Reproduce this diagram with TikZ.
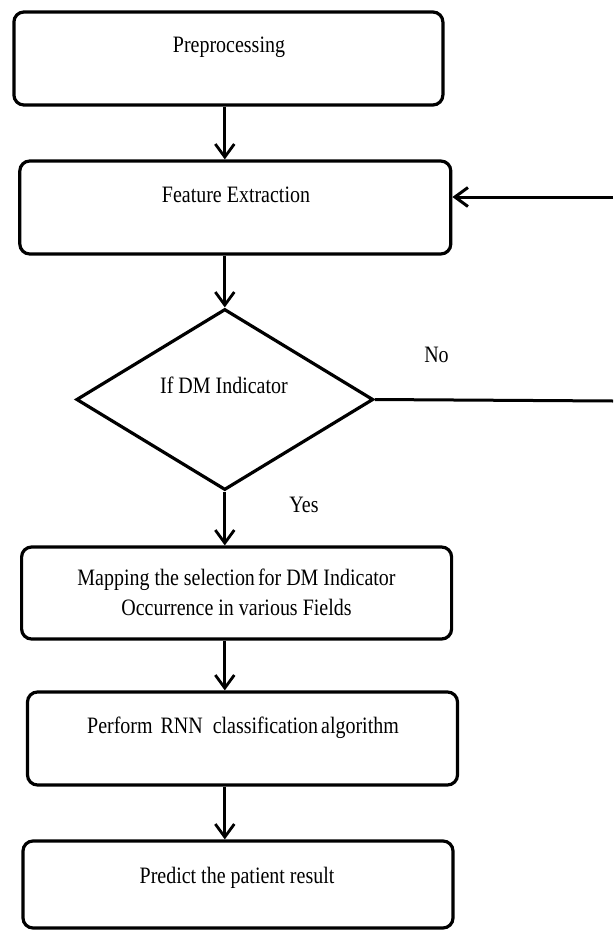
\documentclass[tikz,border=0pt]{standalone}
\usepackage{fontspec}
\setmainfont{Liberation Serif}[FakeStretch=0.85]
\usetikzlibrary{shapes.geometric,arrows.meta}
\begin{document}
\begin{tikzpicture}[x=1pt,y=-1pt,
  box/.style={draw, line width=3.2pt, rounded corners=10pt, inner sep=0pt, minimum width=430pt},
  txt/.style={font=\fontsize{23.5}{30}\selectfont, inner sep=0pt, anchor=base},
  arr/.style={line width=2.8pt, -{Straight Barb[length=13pt,width=19pt]}},
  ln/.style={line width=3pt}
]
\useasboundingbox (0,0) rectangle (613,931);
\node[box, minimum height=93pt, minimum width=429pt] (b1) at (228.4,58.5) {};
\node[box, minimum height=93pt, minimum width=431pt] (b2) at (235.3,207.5) {};
\node[draw, diamond, line width=3.2pt, inner sep=0pt, minimum width=297pt, minimum height=181pt] (d) at (224.8,399.5) {};
\node[box, minimum height=92pt, minimum width=430pt] (b3) at (236.6,593) {};
\node[box, minimum height=93pt, minimum width=430pt] (b4) at (242.5,738.5) {};
\node[box, minimum height=87pt, minimum width=430pt] (b5) at (238,884.5) {};

\node[txt] (t1) at (229,53) {Preprocessing};
\node[txt] (t2) at (236,202) {Feature Extraction};
\node[txt] (td) at (224,393) {If DM Indicator};
\node[txt] (t3a) at (236.5,585) {Mapping the selection\hspace{3pt}for DM Indicator};
\node[txt] (t3b) at (236.5,615) {Occurrence in various Fields};
\node[txt] (t4) at (243,733) {Perform\hspace{8pt}RNN\hspace{10pt}classification\hspace{3pt}algorithm};
\node[txt] (t5) at (237,883) {Predict the patient result};
\node[txt] (no) at (436.5,362) {No};
\node[txt] (yes) at (304,512) {Yes};

\coordinate (r1) at (613,401);
\coordinate (r2) at (613,197);

\draw[arr] (b1.south -| d.north) -- (b2.north -| d.north);
\draw[arr] (b2.south -| d.north) -- (d.north);
\draw[arr] (d.south) -- (b3.north -| d.south);
\draw[arr] (b3.south -| d.north) -- (b4.north -| d.north);
\draw[arr] (b4.south -| d.north) -- (b5.north -| d.north);
\draw[ln] (d.east) -- (r1);
\draw[arr, line width=3pt] (r2) -- (r2 -| b2.east);
\end{tikzpicture}
\end{document}
